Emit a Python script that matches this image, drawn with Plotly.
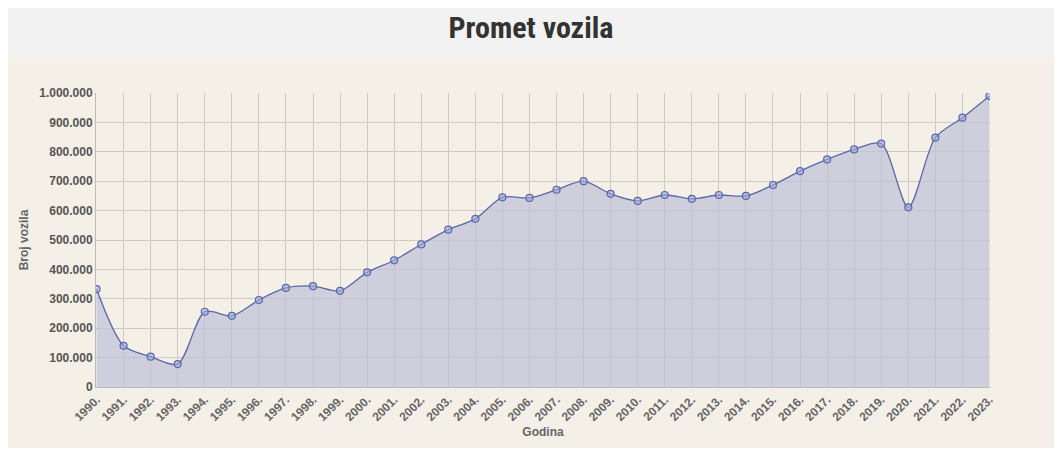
import plotly.graph_objects as go

years = list(range(1990, 2024))
labels = [f"{y}." for y in years]
values = [333000, 140000, 103000, 78000, 256000, 242000, 296000, 337000, 343000, 327000,
          390000, 431000, 485000, 535000, 572000, 645000, 643000, 671000, 700000, 657000,
          633000, 653000, 640000, 653000, 650000, 687000, 734000, 774000, 808000, 828000,
          611000, 848000, 916000, 990000]
yticks = list(range(0, 1000001, 100000))
ytext = ["<b>0</b>"] + [f"<b>{v:,}</b>".replace(",", ".") for v in yticks[1:]]
xtext = [f"<b>{l}</b>" for l in labels]

fig = go.Figure(go.Scatter(
    x=labels, y=values, mode="lines+markers",
    line=dict(color="#5a68a8", width=1.3, shape="spline", smoothing=0.8),
    fill="tozeroy", fillcolor="rgba(190,192,215,0.7)",
    marker=dict(size=7, color="rgba(160,170,220,0.6)", line=dict(color="#5a68a8", width=1.2)),
    hoverinfo="x+y"))

fig.update_layout(
    width=1046, height=440,
    margin=dict(l=88, r=64, t=85, b=58),
    paper_bgcolor="#f4efe7", plot_bgcolor="#f4efe7",
    showlegend=False,
    title=dict(text="<b>Promet vozila</b>", x=0.5, y=0.955, xanchor="center", yanchor="middle",
               font=dict(family="Liberation Sans Narrow, Roboto Condensed, Liberation Sans", size=30, color="#333")),
    shapes=[dict(type="rect", xref="paper", yref="paper", x0=-0.2, x1=1.2, y0=1.118, y1=1.4,
                 fillcolor="#f2f2f2", line_width=0, layer="below")],
    font=dict(family="Liberation Sans, Arial", color="#555"),
)
fig.update_xaxes(type="category", tickangle=-45, showgrid=True, gridcolor="#cfcac2",
                 tickvals=labels, ticktext=xtext,
                 tickfont=dict(size=12, color="#666", family="Liberation Sans"),
                 title=dict(text="<b>Godina</b>", font=dict(size=12, color="#666"), standoff=4),
                 showline=True, linecolor="#bbb", range=[-0.02, 33.02], zeroline=False)
fig.update_yaxes(range=[0, 1000000], tickvals=yticks, ticktext=ytext, showgrid=True,
                 gridcolor="#cfcac2", tickfont=dict(family="Liberation Sans", size=12, color="#555"),
                 title=dict(text="<b>Broj vozila</b>", font=dict(size=12, color="#666"), standoff=8),
                 showline=True, linecolor="#bbb", zeroline=False)
fig.write_html("out.html")
